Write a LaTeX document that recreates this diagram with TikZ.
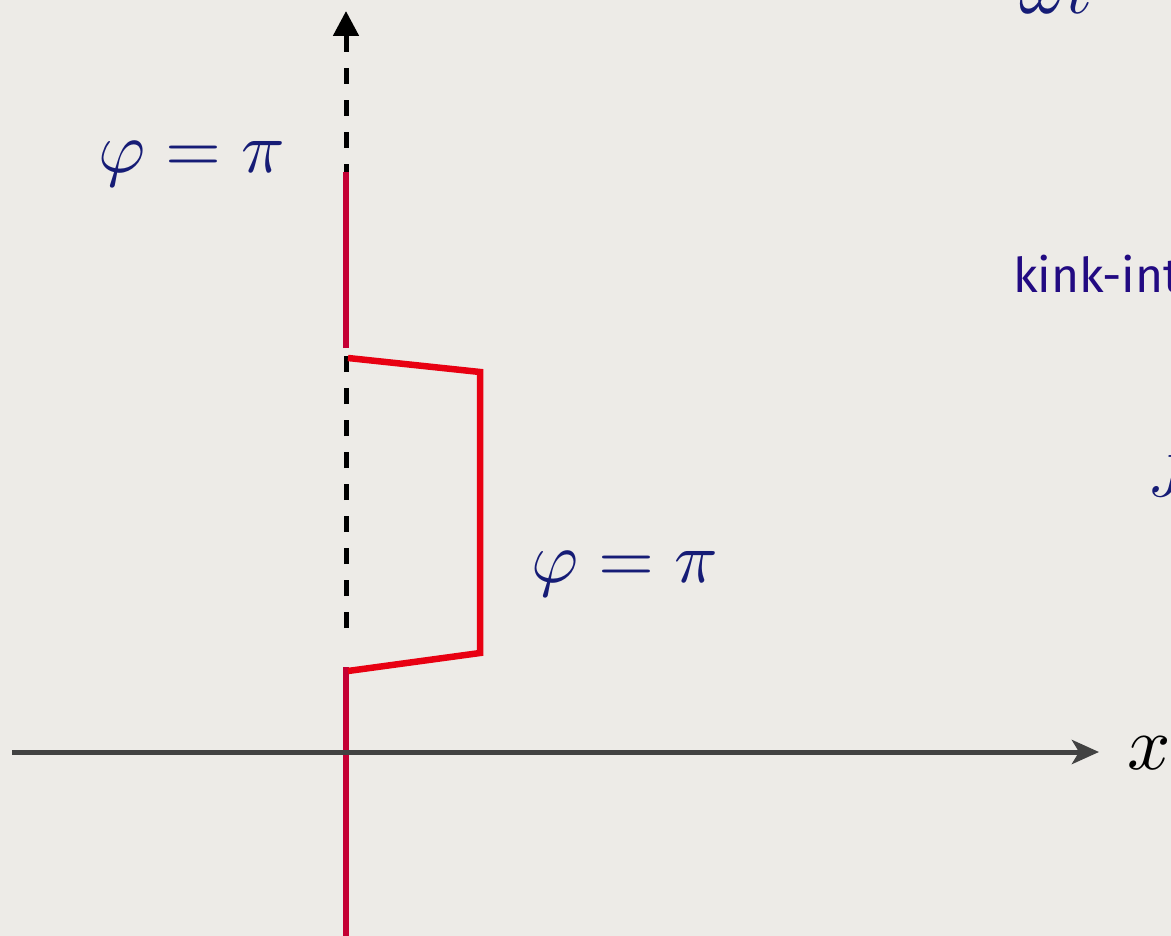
\documentclass[tikz,border=0pt]{standalone}
\usepackage{fontspec}
\newfontfamily\kinkfont{Fira Sans}
\usetikzlibrary{arrows.meta}
\definecolor{bg}{RGB}{237,235,231}
\definecolor{navy}{RGB}{22,28,118}
\definecolor{indigo}{RGB}{34,10,130}
\definecolor{kinkred}{RGB}{232,0,18}
\definecolor{crimson}{RGB}{196,0,52}
\definecolor{axisgrey}{RGB}{66,66,66}
\tikzset{
  lbl/.style={inner sep=0pt, text=navy, scale=7.2},
  crim/.style={draw=crimson, line width=6.5pt},
  kinkline/.style={draw=kinkred, line width=6.5pt, line join=miter},
  dashline/.style={draw=black, line width=5pt, dash pattern=on 16pt off 16pt},
  axisline/.style={draw=axisgrey, line width=5pt}
}
\begin{document}
\begin{tikzpicture}[x=1pt,y=-1pt]
\useasboundingbox (0,0) rectangle (1171,936);
\fill[bg] (0,0) rectangle (1171,936);
\begin{scope}
\clip (0,0) rectangle (1171,936);
% coordinates
\coordinate (dbot) at (346,628);
\coordinate (dtop) at (346,36);
\coordinate (tip) at (346,11);
\coordinate (cbot) at (346,940);
\coordinate (ctop) at (346,667);
\coordinate (mbot) at (346,348);
\coordinate (mtop) at (346,172);
\coordinate (k1) at (348,358);
\coordinate (k2) at (480,372);
\coordinate (k3) at (480,653);
\coordinate (k4) at (348,671);
\coordinate (ax0) at (12,752);
\coordinate (ax1) at (1099,752);
% dashed vertical axis
\draw[dashline] (dbot) -- (dtop);
\draw[draw=black, line width=5pt, -{Triangle[length=25pt,width=25pt]}] (dtop) -- (tip);
% crimson segments
\draw[crim] (cbot) -- (ctop);
\draw[crim] (mbot) -- (mtop);
% kink
\draw[kinkline] (k1) -- (k2) -- (k3) -- (k4);
% x axis
\draw[axisline, -{Stealth[length=27pt,width=24pt,inset=7pt]}] (ax0) -- (ax1);
% labels
\node[lbl, anchor=base west] (phi1) at (97,173) {$\varphi=\pi$};
\node[lbl, anchor=base west] (phi2) at (530,582) {$\varphi=\pi$};
\node[inner sep=0pt, text=black, scale=7.6, anchor=base west] (xl) at (1126,769) {$x$};
\node[lbl, anchor=base west] (om) at (1018,14) {$\omega t$};
\node[lbl, scale=6/7.2, anchor=base west] (jl) at (1147,496) {$J$};
\node[inner sep=0pt, text=indigo, anchor=base west, font=\kinkfont\fontsize{48}{56}\selectfont] (kink) at (1013,293) {kink-int};
\end{scope}
\end{tikzpicture}
\end{document}
